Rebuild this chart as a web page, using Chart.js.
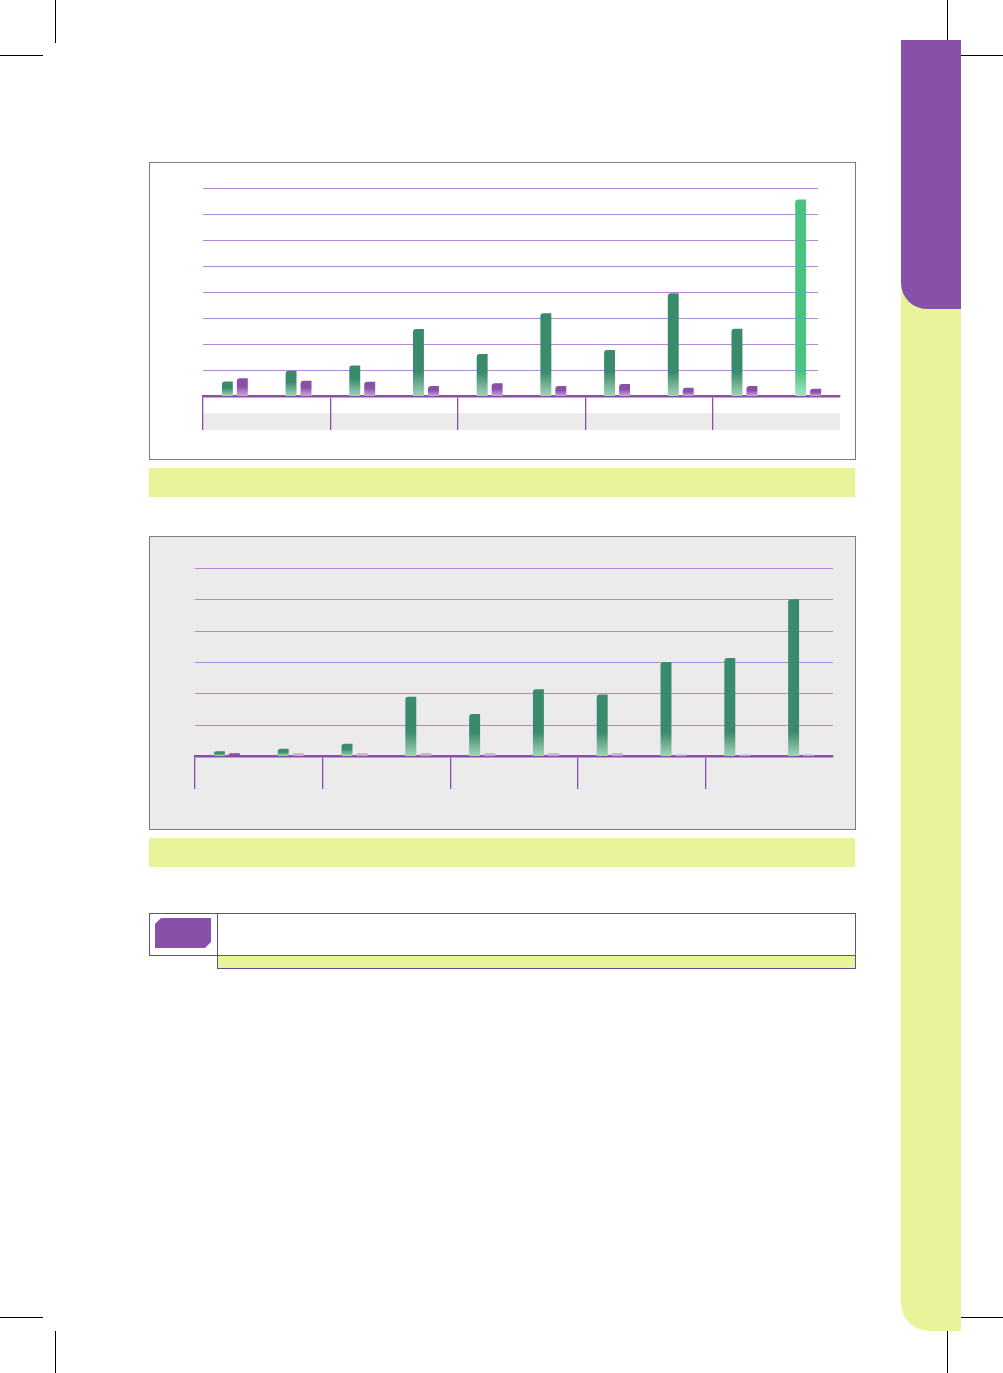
<!DOCTYPE html>
<html>
<head>
<meta charset="utf-8">
<script src="https://cdn.jsdelivr.net/npm/chart.js@4"></script>
<style>
  body { margin: 0; background: #fff; font-family: "Noto Sans", sans-serif; }
  #page { position: relative; width: 1003px; height: 1373px; overflow: hidden; }
  .abs { position: absolute; }
  .crop { position: absolute; background: #000; }
  .box { position: absolute; box-sizing: border-box; border: 1px solid #6e7f89; }
  .strip { position: absolute; background: #e8f39a; }
</style>
</head>
<body>
<div id="page">
  <!-- crop marks -->
  <div class="crop" style="left:55px;top:0;width:1px;height:43px"></div>
  <div class="crop" style="left:0;top:55px;width:43px;height:1px"></div>
  <div class="crop" style="left:947px;top:0;width:1px;height:42px"></div>
  <div class="crop" style="left:961px;top:55px;width:42px;height:1px"></div>
  <div class="crop" style="left:0;top:1317px;width:43px;height:1px"></div>
  <div class="crop" style="left:55px;top:1331px;width:1px;height:42px"></div>
  <div class="crop" style="left:961px;top:1317px;width:42px;height:1px"></div>
  <div class="crop" style="left:947px;top:1331px;width:1px;height:42px"></div>

  <!-- side tab -->
  <div class="abs" style="left:901px;top:40px;width:60px;height:1291px;background:#e8f39a;border-bottom-left-radius:28px"></div>
  <div class="abs" style="left:901px;top:40px;width:60px;height:269px;background:#8850a8;border-bottom-left-radius:26px"></div>

  <!-- chart 1 -->
  <div class="box" style="left:149px;top:162px;width:707px;height:298px;background:#fff"></div>
  <div class="abs" style="left:150px;top:163px;width:705px;height:296px"><canvas id="chart1"></canvas></div>
  <div class="strip" style="left:149px;top:468px;width:706px;height:29px"></div>

  <!-- chart 2 -->
  <div class="box" style="left:149px;top:536px;width:707px;height:294px;background:#ebebeb"></div>
  <div class="abs" style="left:150px;top:537px;width:705px;height:292px"><canvas id="chart2"></canvas></div>
  <div class="strip" style="left:149px;top:838px;width:706px;height:29px"></div>

  <!-- note box -->
  <div class="abs" style="left:149px;top:913px;width:707px;height:43px;box-sizing:border-box;border:1px solid #5b4f9c"></div>
  <div class="abs" style="left:217px;top:913px;width:1px;height:43px;background:#5b4f9c"></div>
  <div class="abs" style="left:217px;top:955px;width:639px;height:14px;box-sizing:border-box;border:1px solid #5b4f9c;background:#e8f39a"></div>
  <div class="abs" style="left:155px;top:918px;width:56px;height:30px;background:#8850a8;clip-path:polygon(6px 0,100% 0,100% calc(100% - 6px),calc(100% - 6px) 100%,0 100%,0 6px)"></div>
</div>

<script>
// ten bars per chart, paired in five blocks
const categories = ['1', '2', '3', '4', '5', '6', '7', '8', '9', '10'];

// chart 1 (upper)
const topGreen = [5.6, 9.7, 11.7, 25.8, 16.2, 31.8, 17.7, 39.5, 25.9, 75.6];
const topPurple = [6.8, 5.9, 5.5, 3.8, 4.9, 3.8, 4.6, 3.2, 3.8, 2.8];
const topTicks = [0, 10, 20, 30, 40, 50, 60, 70, 80];

// chart 2 (lower)
const lowGreen = [1.5, 2.3, 3.9, 18.9, 13.4, 21.3, 19.6, 30.0, 31.3, 50.0];
const lowPurple = [0.9, 0.9, 0.9, 0.9, 0.9, 0.9, 0.9, 0.5, 0.5, 0.5];
const lowTicks = [0, 10, 20, 30, 40, 50, 60];

const GREEN = '#3a8b6b', GREEN_LIGHT = '#a3d2bc';
const BRIGHT = '#4cc282', BRIGHT_LIGHT = '#a8e4c4';
const PURPLE = '#8a4fab', PURPLE_LIGHT = '#c9a6dc';
const PALE = '#c6a9d8';
const GRID = '#b587d4';

// fade the foot of each bar towards a lighter tone
function fade(pick) {
  return (ctx) => {
    const [solid, light] = pick(ctx);
    const chart = ctx.chart;
    const area = chart.chartArea;
    if (!area || ctx.raw == null) return solid;
    const top = chart.scales.y.getPixelForValue(ctx.raw);
    const h = area.bottom - top;
    const len = Math.max(1, Math.min(24, h * 0.55));
    const g = chart.ctx.createLinearGradient(0, area.bottom - len, 0, area.bottom);
    g.addColorStop(0, solid);
    g.addColorStop(1, light);
    return g;
  };
}

const rowLines = {
  id: 'rowLines',
  beforeDatasetsDraw(chart, args, opts) {
    const { ctx, chartArea, scales: { y } } = chart;
    ctx.save();
    ctx.strokeStyle = GRID;
    ctx.lineWidth = 1.2;
    y.ticks.forEach(t => {
      if (t.value === y.min) return;
      const py = Math.round(y.getPixelForValue(t.value)) + 0.5;
      ctx.beginPath();
      ctx.moveTo(chartArea.left, py);
      ctx.lineTo(chartArea.right - (opts.trim || 0), py);
      ctx.stroke();
    });
    ctx.restore();
  }
};

const band = {
  id: 'band',
  beforeDraw(chart, args, opts) {
    if (!opts.color) return;
    const { ctx, chartArea } = chart;
    ctx.save();
    ctx.fillStyle = opts.color;
    ctx.fillRect(chartArea.left, chartArea.bottom + 17, chartArea.right - chartArea.left, 17);
    ctx.restore();
  }
};

function makeChart(id, green, purple, ticks, greenPick, purplePick, extra) {
  const ctx = document.getElementById(id).getContext('2d');
  return new Chart(ctx, {
    type: 'bar',
    data: {
      labels: categories,
      datasets: [
        {
          data: green,
          backgroundColor: fade(greenPick),
          borderRadius: { topLeft: 3, topRight: 0, bottomLeft: 0, bottomRight: 0 },
          borderSkipped: 'start',
          barPercentage: 0.73,
          categoryPercentage: 0.47
        },
        {
          data: purple,
          backgroundColor: fade(purplePick),
          borderRadius: { topLeft: 3, topRight: 0, bottomLeft: 0, bottomRight: 0 },
          borderSkipped: 'start',
          barPercentage: 0.73,
          categoryPercentage: 0.47
        }
      ]
    },
    options: {
      responsive: true,
      maintainAspectRatio: false,
      animation: false,
      layout: { padding: extra.padding },
      scales: {
        x: {
          grid: {
            offset: true,
            drawOnChartArea: false,
            tickLength: extra.tickLength,
            lineWidth: 1.3,
            color: c => (c.index % 2 === 0 ? PURPLE : 'rgba(0,0,0,0)')
          },
          border: { display: true, color: PURPLE, width: 2.5 },
          ticks: { display: false }
        },
        y: {
          min: 0,
          max: ticks[ticks.length - 1],
          afterBuildTicks: axis => { axis.ticks = ticks.map(v => ({ value: v })); },
          grid: { display: false },
          border: { display: false },
          ticks: { display: false }
        }
      },
      plugins: {
        legend: { display: false },
        tooltip: { enabled: false },
        rowLines: { trim: extra.trim },
        band: { color: extra.band }
      }
    },
    plugins: [band, rowLines]
  });
}

makeChart('chart1', topGreen, topPurple, topTicks,
  c => (c.dataIndex === 9 ? [BRIGHT, BRIGHT_LIGHT] : [GREEN, GREEN_LIGHT]),
  () => [PURPLE, PURPLE_LIGHT],
  { padding: { left: 45, top: 25, right: 15, bottom: 29 }, tickLength: 34, trim: 22, band: '#ebebeb' });

makeChart('chart2', lowGreen, lowPurple, lowTicks,
  () => [GREEN, GREEN_LIGHT],
  c => (c.dataIndex === 0 ? [PURPLE, PURPLE] : [PALE, PALE]),
  { padding: { left: 37, top: 31, right: 22, bottom: 40 }, tickLength: 33, trim: 0, band: null });
</script>
</body>
</html>
